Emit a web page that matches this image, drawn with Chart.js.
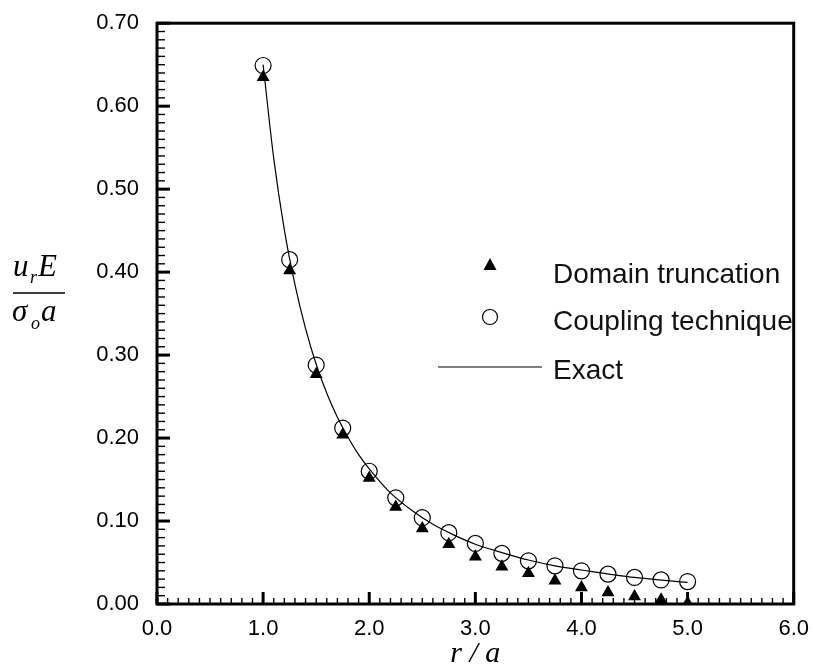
<!DOCTYPE html>
<html>
<head>
<meta charset="utf-8">
<script src="https://cdn.jsdelivr.net/npm/chart.js@4"></script>
<style>
  html, body { margin: 0; padding: 0; background: #fff; }
  #wrap { width: 813px; height: 668px; position: relative; }
</style>
</head>
<body>
<div id="wrap"><canvas id="myChart"></canvas></div>
<script>
// r/a positions of the computed points
const rOverA = [1.0, 1.25, 1.5, 1.75, 2.0, 2.25, 2.5, 2.75, 3.0, 3.25, 3.5, 3.75, 4.0, 4.25, 4.5, 4.75, 5.0];
// Domain truncation (filled triangles)
const truncation = [0.635, 0.402, 0.277, 0.204, 0.152, 0.117, 0.091, 0.072, 0.057, 0.045, 0.037, 0.028, 0.020, 0.014, 0.009, 0.005, 0.001];
// Coupling technique (open circles)
const coupling = [0.649, 0.415, 0.288, 0.212, 0.160, 0.128, 0.104, 0.086, 0.073, 0.061, 0.052, 0.046, 0.040, 0.036, 0.032, 0.029, 0.027];
// Exact solution (solid line)
const exactX = [1.0, 1.1, 1.2, 1.3, 1.4, 1.5, 1.6, 1.7, 1.8, 1.9, 2.0, 2.2, 2.4, 2.6, 2.8, 3.0, 3.25, 3.5, 3.75, 4.0, 4.5, 5.0];
const exactY = [0.650, 0.537, 0.451, 0.385, 0.332, 0.289, 0.254, 0.225, 0.201, 0.180, 0.163, 0.134, 0.113, 0.096, 0.083, 0.072, 0.062, 0.053, 0.046, 0.041, 0.032, 0.026];

const legendLabels = ['Domain truncation', 'Coupling technique', 'Exact'];

const toPts = (xs, ys) => xs.map((x, i) => ({ x: x, y: ys[i] }));

// ticks pointing inward + frame + legend + axis titles
const decorPlugin = {
  id: 'decor',
  afterDraw(chart) {
    const c = chart.ctx;
    const a = chart.chartArea;
    const xs = chart.scales.x, ys = chart.scales.y;
    c.save();
    c.strokeStyle = '#000';
    // minor / major ticks on y
    for (let i = 0; i <= 70; i++) {
      const py = ys.getPixelForValue(i / 100);
      const major = i % 10 === 0;
      c.lineWidth = major ? 3 : 1.4;
      c.beginPath();
      c.moveTo(a.left, py);
      c.lineTo(a.left + (major ? 13 : 8), py);
      c.stroke();
    }
    // minor / major ticks on x
    for (let i = 0; i <= 60; i++) {
      const px = xs.getPixelForValue(i / 10);
      const major = i % 10 === 0;
      c.lineWidth = major ? 3 : 1.4;
      c.beginPath();
      c.moveTo(px, a.bottom);
      c.lineTo(px, a.bottom - (major ? 12 : 6));
      c.stroke();
    }
    // frame
    c.lineWidth = 3;
    c.strokeRect(a.left, a.top, a.right - a.left, a.bottom - a.top);

    // legend
    c.fillStyle = '#000';
    c.beginPath();
    c.moveTo(490, 258);
    c.lineTo(496.5, 270);
    c.lineTo(483.5, 270);
    c.closePath();
    c.fill();
    c.lineWidth = 1.2;
    c.beginPath();
    c.arc(490, 317, 7.5, 0, Math.PI * 2);
    c.stroke();
    c.beginPath();
    c.moveTo(438, 367);
    c.lineTo(542, 367);
    c.stroke();
    c.fillStyle = '#111';
    c.font = '28px "Liberation Sans", Arial, sans-serif';
    c.textBaseline = 'middle';
    c.textAlign = 'left';
    c.fillText(legendLabels[0], 553, 275);
    c.fillText(legendLabels[1], 553, 322);
    c.fillText(legendLabels[2], 553, 371);

    // x axis title
    c.fillStyle = '#000';
    c.font = 'italic 30px "Liberation Serif", "Times New Roman", serif';
    c.textAlign = 'center';
    c.textBaseline = 'alphabetic';
    c.fillText('r / a', (a.left + a.right) / 2, 662);

    // y axis title as a fraction
    c.textAlign = 'left';
    c.font = 'italic 31px "Liberation Serif", "Times New Roman", serif';
    c.fillText('u', 13, 276);
    c.fillText('E', 38, 276);
    c.fillText('σ', 12, 321);
    c.fillText('a', 41, 321);
    c.font = 'italic 18px "Liberation Serif", "Times New Roman", serif';
    c.fillText('r', 30, 283);
    c.fillText('o', 31, 329);
    c.lineWidth = 1.3;
    c.beginPath();
    c.moveTo(13, 293);
    c.lineTo(65, 293);
    c.stroke();
    c.restore();
  }
};

const tickFont = { family: '"Liberation Sans", Arial, sans-serif', size: 22 };

const myChart = new Chart(document.getElementById('myChart'), {
  type: 'scatter',
  data: {
    datasets: [
      {
        label: legendLabels[0],
        data: toPts(rOverA, truncation),
        pointStyle: 'triangle',
        pointRadius: 7.5,
        backgroundColor: '#000',
        borderColor: '#000',
        borderWidth: 0,
        showLine: false
      },
      {
        label: legendLabels[1],
        data: toPts(rOverA, coupling),
        pointStyle: 'circle',
        pointRadius: 8,
        backgroundColor: 'rgba(0,0,0,0)',
        borderColor: '#000',
        borderWidth: 1.2,
        showLine: false
      },
      {
        label: legendLabels[2],
        data: toPts(exactX, exactY),
        showLine: true,
        pointRadius: 0,
        borderColor: '#000',
        borderWidth: 1.2,
        cubicInterpolationMode: 'monotone',
        fill: false
      }
    ]
  },
  options: {
    responsive: true,
    maintainAspectRatio: false,
    animation: false,
    layout: { padding: { top: 19, right: 16, left: 0, bottom: 0 } },
    plugins: { legend: { display: false }, tooltip: { enabled: false } },
    scales: {
      x: {
        type: 'linear',
        min: 0, max: 6,
        grid: { display: false },
        border: { display: false },
        ticks: {
          stepSize: 1, autoSkip: false, maxRotation: 0,
          padding: 4, color: '#000', font: tickFont,
          callback: v => v.toFixed(1)
        },
        afterFit: s => { s.height = 64; }
      },
      y: {
        type: 'linear',
        min: 0, max: 0.7,
        grid: { display: false },
        border: { display: false },
        ticks: {
          stepSize: 0.1, padding: 10, color: '#000', font: tickFont,
          callback: v => v.toFixed(2)
        },
        afterFit: s => { s.width = 157; }
      }
    }
  },
  plugins: [decorPlugin]
});
</script>
</body>
</html>
